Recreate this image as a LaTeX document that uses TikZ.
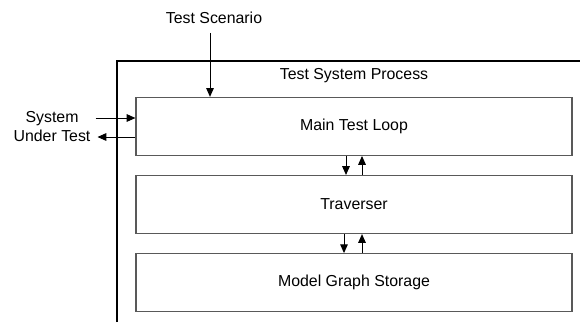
\documentclass[tikz,border=0pt]{standalone}
\usepackage{fontspec}
\setmainfont{Liberation Sans}
\usetikzlibrary{positioning,arrows.meta}
\begin{document}
\begin{tikzpicture}[
    node distance=0.475cm,
    font=\fontsize{11.3}{13.5}\selectfont,
    block/.style={rectangle, draw=black!65, line width=0.8pt, minimum width=10.9cm, minimum height=1.45cm, align=center},
    label/.style={align=center, inner sep=2pt},
    arrow/.style={-{Triangle[length=0.22cm,width=0.19cm]}, line width=0.7pt}
]
\useasboundingbox (0,0) rectangle (14.5,-8.05);

\draw[line width=1.1pt] (2.925,-8.05) |- (14.5,-1.525);
\node[label] (proc) at (8.85,-1.9) {Test System Process};

\node[block] (main) at (8.85,-3.16) {Main Test Loop};
\node[block] (trav) [below=of main] {Traverser};
\node[block] (store) [below=of trav] {Model Graph Storage};

\node[label] (scen) at (5.35,-0.45) {Test Scenario};
\node[label] (sut) at (1.3,-3.17) {System\\Under Test};

\draw[arrow] ([xshift=-0.1cm]scen.south) ++(0,-0.15) coordinate (s0) -- (s0 |- main.north);
\draw[arrow] ([xshift=0.05cm]sut.east |- 0,-2.95) -- (main.west |- 0,-2.95);
\draw[arrow] (main.west |- 0,-3.425) -- ([xshift=0.1cm]sut.east |- 0,-3.425);

\draw[arrow] ([xshift=-0.2cm]main.south) -- ([xshift=-0.2cm]trav.north);
\draw[arrow] ([xshift=0.2cm]trav.north) -- ([xshift=0.2cm]main.south);
\draw[arrow] ([xshift=-0.25cm]trav.south) -- ([xshift=-0.25cm]store.north);
\draw[arrow] ([xshift=0.2cm]store.north) -- ([xshift=0.2cm]trav.south);

\end{tikzpicture}
\end{document}
